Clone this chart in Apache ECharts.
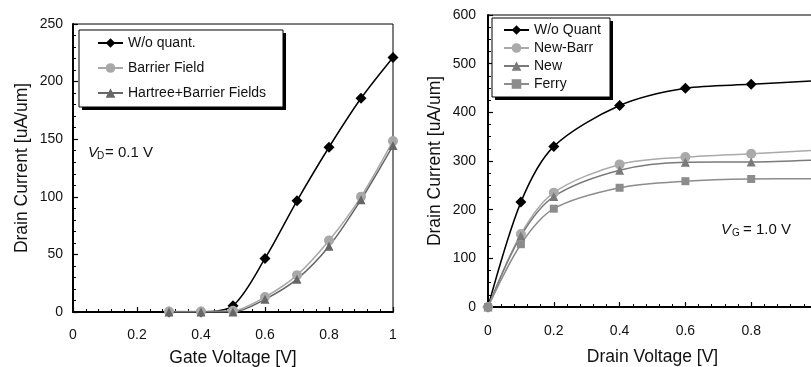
<!DOCTYPE html>
<html>
<head>
<meta charset="utf-8">
<script src="https://cdn.jsdelivr.net/npm/echarts@6/dist/echarts.min.js"></script>
<style>
  html, body { margin: 0; padding: 0; background: #fff; }
  #chart { width: 811px; height: 367px; }
</style>
</head>
<body>
<div id="chart"></div>
<script>
// left panel: Id-Vg at Vd = 0.1 V
const gateVoltage = [0.3, 0.4, 0.5, 0.6, 0.7, 0.8, 0.9, 1.0];
const woQuantVg = [0, 0, 5.5, 46.5, 96.5, 143, 185.5, 221];
const barrierField = [0.5, 0.5, 1, 13, 32, 62, 100, 148.5];
const hartreeBarrier = [0, 0, 0, 11, 28.5, 57, 97.5, 144.5];

// right panel: Id-Vd at Vg = 1.0 V
const drainVoltage = [0, 0.1, 0.2, 0.4, 0.6, 0.8, 1.0];
const woQuantVd = [0, 215.5, 330, 414, 449.5, 457.5, 465];
const newBarr = [0, 150, 235, 293, 308, 315, 322];
const newModel = [0, 146, 227, 281, 297.5, 298, 302];
const ferry = [0, 129, 202, 245, 258.5, 263, 263.5];

const pairs = (xs, ys) => xs.map((x, i) => [x, ys[i]]);

const font = 'Liberation Sans, Arial, sans-serif';
const chart = echarts.init(document.getElementById('chart'));

const axisCommon = {
  type: 'value',
  axisLine: { show: true, onZero: false, lineStyle: { color: '#000', width: 2 } },
  axisTick: { show: true, inside: true, length: 5, lineStyle: { color: '#000', width: 1.2 } },
  minorTick: { show: true, length: 3, lineStyle: { color: '#000', width: 1 } },
  splitLine: { show: false },
  axisLabel: { color: '#111', fontSize: 14, fontFamily: font },
  nameLocation: 'middle',
  nameTextStyle: { color: '#111', fontSize: 17.5, fontFamily: font }
};

function mkSeries(name, data, gridIdx, color, symbol, size, width) {
  return {
    name: name,
    type: 'line',
    xAxisIndex: gridIdx,
    yAxisIndex: gridIdx,
    data: data,
    smooth: 0.3,
    symbol: symbol,
    symbolSize: size,
    showAllSymbol: true,
    lineStyle: { color: color, width: width || 1.5 },
    itemStyle: { color: color },
    z: 3
  };
}

const legendCommon = {
  orient: 'vertical',
  backgroundColor: 'transparent',
  borderWidth: 0,
  itemWidth: 25,
  itemHeight: 12,
  textStyle: { color: '#111', fontSize: 14, fontFamily: font },
  selectedMode: false
};

// legend frames with a hard drop shadow, like the original figure
function legendFrame(x, y, w, h) {
  return [
    { type: 'rect', z: 1, shape: { x: x + 3, y: y + 3, width: w, height: h }, style: { fill: '#000' } },
    { type: 'rect', z: 2, shape: { x: x, y: y, width: w, height: h }, style: { fill: '#fff', stroke: '#000', lineWidth: 1 } }
  ];
}

const option = {
  animation: false,
  backgroundColor: '#fff',
  grid: [
    { left: 73, top: 24, right: 418, bottom: 55, show: true, borderColor: '#000', borderWidth: 1, backgroundColor: 'transparent', outerBoundsMode: 'none' },
    { left: 488, top: 15, right: -6, bottom: 60, show: true, borderColor: '#000', borderWidth: 1, backgroundColor: 'transparent', outerBoundsMode: 'none' }
  ],
  xAxis: [
    Object.assign({}, axisCommon, {
      gridIndex: 0, min: 0, max: 1, interval: 0.2,
      minorTick: Object.assign({}, axisCommon.minorTick, { splitNumber: 5 }),
      axisLabel: Object.assign({}, axisCommon.axisLabel, { margin: 16 }),
      name: 'Gate Voltage [V]', nameGap: 37
    }),
    Object.assign({}, axisCommon, {
      gridIndex: 1, min: 0, max: 1, interval: 0.2,
      minorTick: Object.assign({}, axisCommon.minorTick, { splitNumber: 5 }),
      axisLabel: Object.assign({}, axisCommon.axisLabel, { margin: 17 }),
      name: 'Drain Voltage [V]', nameGap: 41
    })
  ],
  yAxis: [
    Object.assign({}, axisCommon, {
      gridIndex: 0, min: 0, max: 250, interval: 50,
      minorTick: Object.assign({}, axisCommon.minorTick, { splitNumber: 5 }),
      axisLabel: Object.assign({}, axisCommon.axisLabel, { margin: 10 }),
      name: 'Drain Current [uA/um]', nameGap: 42
    }),
    Object.assign({}, axisCommon, {
      gridIndex: 1, min: 0, max: 600, interval: 100,
      minorTick: Object.assign({}, axisCommon.minorTick, { splitNumber: 4 }),
      axisLabel: Object.assign({}, axisCommon.axisLabel, { margin: 12 }),
      name: 'Drain Current [uA/um]', nameGap: 44
    })
  ],
  legend: [
    Object.assign({}, legendCommon, {
      left: 79, top: 30,
      padding: [6, 18, 6, 18],
      itemGap: 11,
      data: ['W/o quant.', 'Barrier Field', 'Hartree+Barrier Fields']
    }),
    Object.assign({}, legendCommon, {
      left: 492, top: 18,
      padding: [5, 12, 6, 11],
      itemGap: 4,
      data: ['W/o Quant', 'New-Barr', 'New', 'Ferry']
    })
  ],
  graphic: [].concat(
    legendFrame(79, 30, 204, 77),
    legendFrame(492, 18, 118, 79),
    [
      { type: 'text', left: 88, top: 145, style: { text: 'V', font: 'italic 15px ' + font, fill: '#111' } },
      { type: 'text', left: 97, top: 151, style: { text: 'D', font: '10px ' + font, fill: '#111' } },
      { type: 'text', left: 105, top: 145, style: { text: '= 0.1 V', font: '15px ' + font, fill: '#111' } },
      { type: 'text', left: 721, top: 222, style: { text: 'V', font: 'italic 15px ' + font, fill: '#111' } },
      { type: 'text', left: 732, top: 228, style: { text: 'G', font: '10px ' + font, fill: '#111' } },
      { type: 'text', left: 743, top: 222, style: { text: '= 1.0 V', font: '15px ' + font, fill: '#111' } }
    ]
  ),
  series: [
    mkSeries('W/o quant.', pairs(gateVoltage, woQuantVg), 0, '#000', 'diamond', 11),
    mkSeries('Barrier Field', pairs(gateVoltage, barrierField), 0, '#a8a8a8', 'circle', 10),
    mkSeries('Hartree+Barrier Fields', pairs(gateVoltage, hartreeBarrier), 0, '#666', 'triangle', 9),
    mkSeries('W/o Quant', pairs(drainVoltage, woQuantVd), 1, '#000', 'diamond', 11),
    mkSeries('New-Barr', pairs(drainVoltage, newBarr), 1, '#aaa', 'circle', 10),
    mkSeries('New', pairs(drainVoltage, newModel), 1, '#7a7a7a', 'triangle', 9),
    mkSeries('Ferry', pairs(drainVoltage, ferry), 1, '#8c8c8c', 'rect', 8)
  ]
};

chart.setOption(option);
</script>
</body>
</html>
